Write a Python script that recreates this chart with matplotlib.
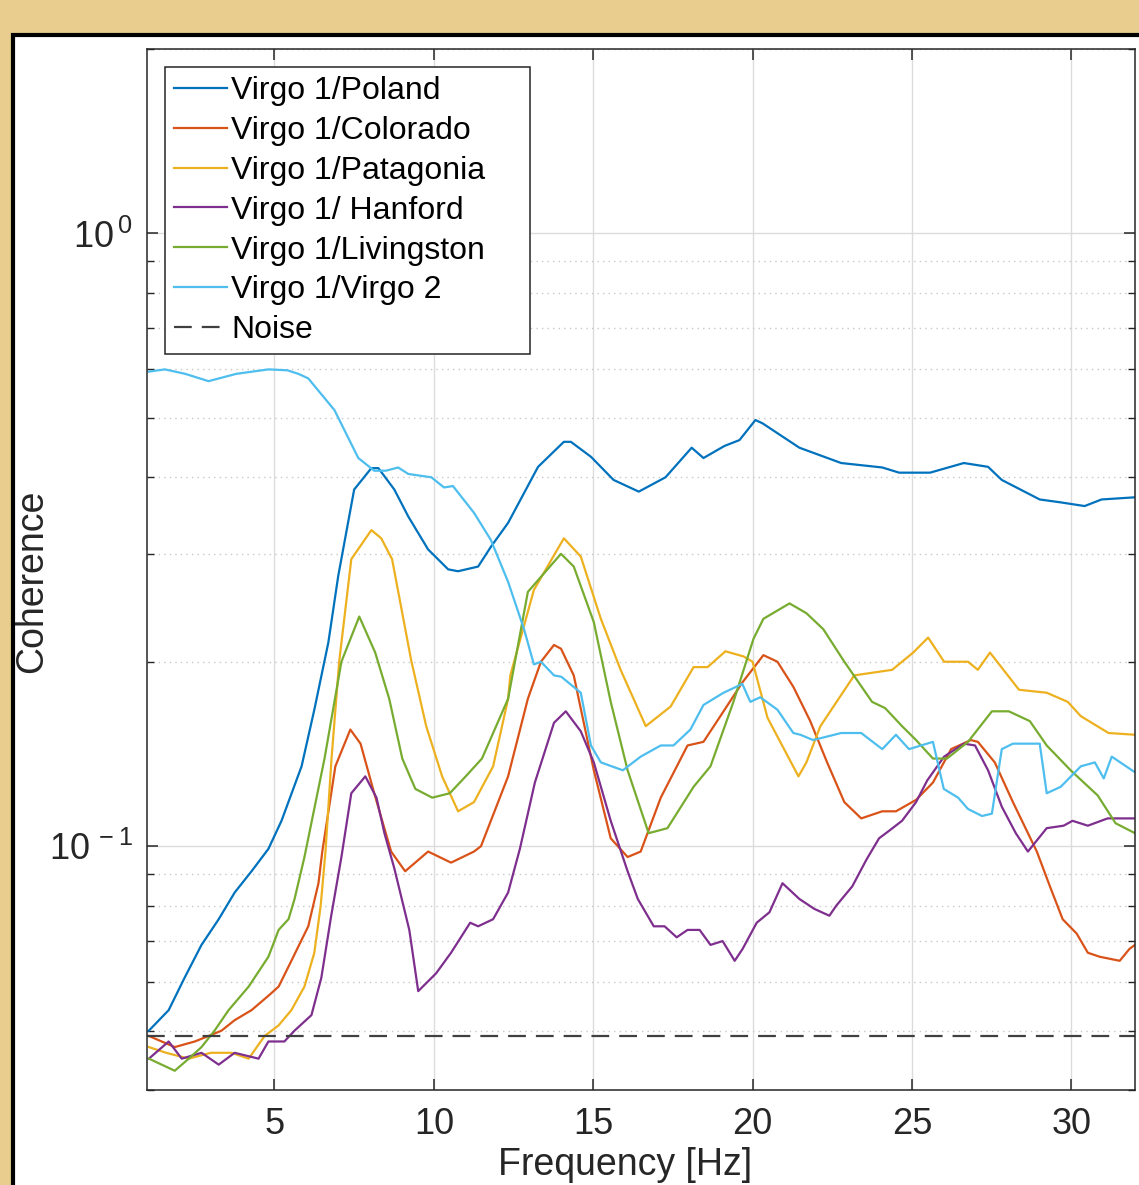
import numpy as np
import matplotlib
matplotlib.use('Agg')
import matplotlib.pyplot as plt
from matplotlib.patches import Rectangle
from matplotlib.ticker import FixedLocator, FuncFormatter, NullFormatter

plt.rcParams['font.family'] = ['Liberation Sans', 'DejaVu Sans']
plt.rcParams['mathtext.fontset'] = 'custom'
plt.rcParams['mathtext.rm'] = 'Liberation Sans'

# Virgo 1 / Poland
poland_f = [1.06, 1.68, 2.18, 2.71, 3.25, 3.75, 4.28, 4.81, 5.22, 5.85, 6.25, 6.69, 7.0,
            7.5, 8.04, 8.26, 8.76, 9.2, 9.82, 10.45, 10.76, 11.39, 11.79, 12.33, 13.27,
            14.08, 14.3, 14.93, 15.64, 16.43, 17.27, 18.09, 18.46, 19.12, 19.59, 20.09,
            20.31, 21.47, 22.78, 24.07, 24.6, 25.57, 26.63, 27.39, 27.82, 29.01, 29.67,
            30.42, 30.95, 32.0]
poland_c = [0.050, 0.054, 0.061, 0.069, 0.076, 0.084, 0.091, 0.099, 0.11, 0.135, 0.167,
            0.215, 0.276, 0.382, 0.414, 0.414, 0.382, 0.345, 0.305, 0.283, 0.281, 0.286,
            0.308, 0.337, 0.416, 0.457, 0.457, 0.432, 0.396, 0.379, 0.40, 0.447, 0.43,
            0.45, 0.46, 0.496, 0.49, 0.447, 0.422, 0.415, 0.407, 0.407, 0.422, 0.416,
            0.396, 0.368, 0.364, 0.359, 0.368, 0.371]

# Virgo 1 / Colorado
colorado_f = [1.06, 1.87, 2.5, 2.93, 3.34, 3.75, 4.28, 4.81, 5.13, 5.53, 6.06, 6.38, 6.5,
              6.91, 7.38, 7.7, 8.13, 8.66, 9.1, 9.82, 10.54, 11.26, 11.48, 12.33, 12.95,
              13.36, 13.77, 13.99, 14.39, 15.02, 15.55, 16.08, 16.49, 17.12, 17.96, 18.46,
              19.09, 19.68, 20.34, 20.78, 21.28, 21.81, 22.34, 22.88, 23.41, 24.07, 24.5,
              25.13, 25.66, 26.23, 26.85, 27.07, 27.6, 28.17, 28.92, 29.33, 29.73, 30.17,
              30.52, 30.89, 31.52, 31.83, 32.0]
colorado_c = [0.049, 0.047, 0.048, 0.049, 0.05, 0.052, 0.054, 0.057, 0.059, 0.065, 0.074,
              0.087, 0.098, 0.135, 0.155, 0.147, 0.122, 0.098, 0.091, 0.098, 0.094, 0.098,
              0.1, 0.13, 0.174, 0.2, 0.213, 0.21, 0.19, 0.133, 0.103, 0.096, 0.098, 0.12,
              0.146, 0.148, 0.166, 0.185, 0.205, 0.2, 0.182, 0.16, 0.137, 0.118, 0.111,
              0.114, 0.114, 0.119, 0.127, 0.144, 0.149, 0.148, 0.137, 0.118, 0.098, 0.086,
              0.076, 0.072, 0.067, 0.066, 0.065, 0.068, 0.069]

# Virgo 1 / Patagonia
patagonia_f = [1.06, 1.6, 2.31, 3.0, 3.65, 4.19, 4.69, 5.13, 5.53, 5.94, 6.25, 6.45, 6.6,
               6.79, 7.03, 7.41, 8.04, 8.35, 8.69, 9.29, 9.76, 10.26, 10.76, 11.26, 11.86,
               12.33, 12.4, 13.14, 14.08, 14.61, 15.24, 15.86, 16.65, 17.43, 18.15, 18.59,
               19.15, 19.72, 20.0, 20.47, 21.44, 21.69, 22.13, 23.19, 24.38, 25.04, 25.51,
               26.01, 26.76, 27.07, 27.45, 28.36, 29.23, 29.89, 30.3, 31.17, 32.0]
patagonia_c = [0.047, 0.046, 0.045, 0.046, 0.046, 0.045, 0.049, 0.051, 0.054, 0.059, 0.067,
               0.08, 0.098, 0.139, 0.2, 0.294, 0.328, 0.318, 0.294, 0.201, 0.157, 0.13,
               0.114, 0.118, 0.135, 0.174, 0.19, 0.262, 0.318, 0.297, 0.235, 0.194, 0.157,
               0.169, 0.196, 0.196, 0.208, 0.204, 0.2, 0.162, 0.13, 0.137, 0.157, 0.19,
               0.194, 0.207, 0.219, 0.2, 0.2, 0.194, 0.207, 0.18, 0.178, 0.172, 0.163,
               0.153, 0.152]

# Virgo 1 / Hanford
hanford_f = [1.06, 1.68, 2.09, 2.71, 3.25, 3.75, 4.5, 4.81, 5.31, 5.63, 6.16, 6.47, 6.78,
             7.1, 7.41, 7.85, 8.2, 8.45, 8.76, 9.23, 9.51, 10.07, 10.54, 11.14, 11.39,
             11.86, 12.33, 12.7, 13.17, 13.77, 14.14, 14.61, 15.02, 15.55, 16.08, 16.4,
             16.9, 17.24, 17.62, 17.96, 18.34, 18.68, 19.06, 19.44, 19.69, 20.13, 20.53,
             20.94, 21.47, 21.94, 22.41, 22.63, 23.13, 23.57, 23.97, 24.29, 24.69, 25.13,
             25.48, 26.01, 26.63, 26.98, 27.39, 27.82, 28.26, 28.64, 29.23, 29.76, 30.04,
             30.52, 31.14, 32.0]
hanford_c = [0.045, 0.048, 0.045, 0.046, 0.044, 0.046, 0.045, 0.048, 0.048, 0.05, 0.053,
             0.061, 0.077, 0.096, 0.122, 0.13, 0.12, 0.105, 0.092, 0.073, 0.058, 0.062,
             0.067, 0.075, 0.074, 0.076, 0.084, 0.099, 0.127, 0.159, 0.166, 0.154, 0.137,
             0.11, 0.091, 0.082, 0.074, 0.074, 0.071, 0.073, 0.073, 0.069, 0.07, 0.065,
             0.068, 0.075, 0.078, 0.087, 0.082, 0.079, 0.077, 0.08, 0.086, 0.095, 0.103,
             0.106, 0.11, 0.118, 0.128, 0.14, 0.147, 0.146, 0.133, 0.116, 0.105, 0.098,
             0.107, 0.108, 0.11, 0.108, 0.111, 0.111]

# Virgo 1 / Livingston
livingston_f = [1.06, 1.87, 2.31, 2.71, 3.12, 3.56, 4.19, 4.81, 5.13, 5.44, 5.63, 5.94,
                6.57, 7.1, 7.66, 8.16, 8.6, 9.01, 9.42, 9.95, 10.5, 11.0, 11.51, 12.33,
                12.95, 13.99, 14.39, 15.02, 15.55, 16.08, 16.74, 17.33, 18.15, 18.68, 19.4,
                20.03, 20.34, 21.16, 21.69, 22.22, 22.88, 23.75, 24.16, 24.69, 25.13,
                25.66, 26.1, 26.76, 27.51, 28.04, 28.7, 29.23, 29.98, 30.83, 31.39, 32.0]
livingston_c = [0.045, 0.043, 0.045, 0.047, 0.05, 0.054, 0.059, 0.066, 0.073, 0.076, 0.082,
                0.096, 0.139, 0.2, 0.237, 0.207, 0.174, 0.139, 0.124, 0.12, 0.122, 0.13,
                0.139, 0.174, 0.26, 0.30, 0.286, 0.232, 0.172, 0.133, 0.105, 0.107, 0.125,
                0.135, 0.172, 0.218, 0.235, 0.249, 0.24, 0.226, 0.20, 0.172, 0.168, 0.157,
                0.149, 0.139, 0.139, 0.148, 0.166, 0.166, 0.16, 0.146, 0.133, 0.121, 0.109,
                0.105]

# Virgo 1 / Virgo 2
virgo2_f = [1.06, 1.56, 2.2, 2.93, 3.8, 4.81, 5.4, 5.75, 6.06, 6.88, 7.63, 8.13, 8.5, 8.88,
            9.2, 9.92, 10.32, 10.6, 11.26, 11.79, 12.33, 12.83, 13.14, 13.36, 13.77, 14.0,
            14.61, 14.93, 15.24, 15.93, 16.49, 17.12, 17.52, 18.05, 18.46, 19.09, 19.68,
            19.93, 20.24, 20.78, 21.28, 21.5, 21.9, 22.78, 23.41, 24.07, 24.5, 24.91,
            25.66, 26.0, 26.45, 26.76, 27.2, 27.51, 27.82, 28.17, 29.01, 29.23, 29.67,
            30.3, 30.74, 31.02, 31.27, 32.0]
virgo2_c = [0.595, 0.60, 0.59, 0.574, 0.59, 0.60, 0.598, 0.59, 0.58, 0.515, 0.43, 0.41,
            0.41, 0.415, 0.405, 0.40, 0.385, 0.387, 0.35, 0.316, 0.27, 0.226, 0.198, 0.20,
            0.19, 0.189, 0.178, 0.146, 0.137, 0.133, 0.14, 0.146, 0.146, 0.155, 0.17,
            0.178, 0.184, 0.172, 0.175, 0.167, 0.153, 0.152, 0.149, 0.153, 0.153, 0.144,
            0.152, 0.144, 0.148, 0.124, 0.12, 0.115, 0.112, 0.113, 0.144, 0.147, 0.147,
            0.122, 0.125, 0.135, 0.137, 0.129, 0.14, 0.132]

noise_level = 0.049

series = [
    ('Virgo 1/Poland', poland_f, poland_c, '#0072BD'),
    ('Virgo 1/Colorado', colorado_f, colorado_c, '#D95319'),
    ('Virgo 1/Patagonia', patagonia_f, patagonia_c, '#EDB120'),
    ('Virgo 1/ Hanford', hanford_f, hanford_c, '#7E2F8E'),
    ('Virgo 1/Livingston', livingston_f, livingston_c, '#77AC30'),
    ('Virgo 1/Virgo 2', virgo2_f, virgo2_c, '#4DBEEE'),
]

W, H = 1139, 1185
fig = plt.figure(figsize=(W / 100, H / 100), dpi=100, facecolor='#E8CD8E')

# white page with a black frame, drawn behind the axes
page = Rectangle((13 / W, -0.2), 1.2, (1 - 35 / H) + 0.2,
                 transform=fig.transFigure, facecolor='white',
                 edgecolor='black', linewidth=3, zorder=-10)
fig.patches.append(page)

ax = fig.add_axes([147 / W, 95 / H, 988 / W, 1041 / H])
ax.set_facecolor('white')

for label, f, c, col in series:
    ax.plot(f, c, color=col, lw=1.6, label=label + '    ')
ax.axhline(noise_level, color='#404040', lw=1.6, ls=(0, (8, 4.5)), label='Noise')

ax.set_yscale('log')
ax.set_xlim(1, 32)
ax.set_ylim(0.04, 2)

ax.set_xticks([5, 10, 15, 20, 25, 30])
ax.yaxis.set_major_locator(FixedLocator([0.1, 1.0]))
ax.yaxis.set_minor_locator(FixedLocator([0.04, 0.05, 0.06, 0.07, 0.08, 0.09,
                                         0.2, 0.3, 0.4, 0.5, 0.6, 0.7, 0.8, 0.9, 2.0]))
ax.yaxis.set_minor_formatter(NullFormatter())
ax.yaxis.set_major_formatter(FuncFormatter(
    lambda v, p: r'$\mathregular{10^{\,%d}}$' % round(np.log10(v))))

ax.tick_params(which='both', direction='in', top=True, right=True,
               colors='#262626', labelsize=26)
ax.tick_params(which='major', length=8, width=1.1)
ax.tick_params(which='minor', length=5, width=1.0)
ax.tick_params(axis='x', pad=12)
ax.tick_params(axis='y', pad=10)

ax.grid(True, which='major', color='#dcdcdc', lw=1.0)
ax.grid(True, which='minor', axis='y', color='#c8c8c8', lw=1.0, ls=(0, (1, 3)))
ax.set_axisbelow(True)
for s in ax.spines.values():
    s.set_color('#262626')
    s.set_linewidth(1.1)

ax.set_xlabel('Frequency [Hz]', fontsize=27, color='#262626')
ax.xaxis.label.set_va('bottom')
ax.xaxis.set_label_coords(0.484, -0.0895)
ax.set_ylabel('Coherence', fontsize=27, color='#262626')
ax.yaxis.set_label_coords(-0.098, 0.489)

leg = ax.legend(loc='upper left', bbox_to_anchor=(0.0182, 0.9827), borderaxespad=0,
                fontsize=23, frameon=True, fancybox=False, framealpha=1,
                edgecolor='#262626', labelspacing=0.31, handlelength=1.65,
                handletextpad=0.15, borderpad=0.28)
leg.get_frame().set_linewidth(1.1)

fig.savefig('out.png', dpi=100, facecolor=fig.get_facecolor())
